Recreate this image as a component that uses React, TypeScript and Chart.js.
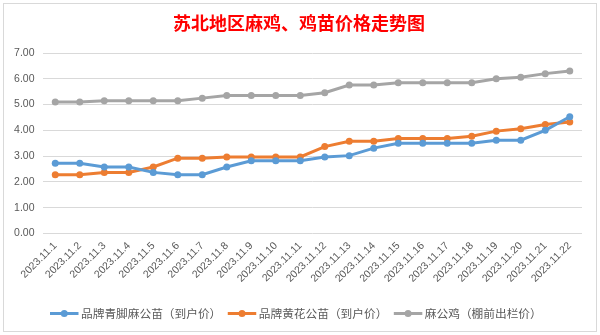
import React, { useEffect, useRef } from "react";
import { Chart, registerables } from "chart.js";

Chart.register(...registerables);

const titleText = "苏北地区麻鸡、鸡苗价格走势图";
const categories = [
  "2023.11.1", "2023.11.2", "2023.11.3", "2023.11.4", "2023.11.5", "2023.11.6",
  "2023.11.7", "2023.11.8", "2023.11.9", "2023.11.10", "2023.11.11", "2023.11.12",
  "2023.11.13", "2023.11.14", "2023.11.15", "2023.11.16", "2023.11.17", "2023.11.18",
  "2023.11.19", "2023.11.20", "2023.11.21", "2023.11.22",
];
const seriesNames = ["品牌青脚麻公苗（到户价）", "品牌黄花公苗（到户价）", "麻公鸡（棚前出栏价）"];
const blueValues = [2.72, 2.72, 2.58, 2.58, 2.37, 2.28, 2.28, 2.58, 2.82, 2.82, 2.82, 2.97, 3.02, 3.31, 3.5, 3.5, 3.5, 3.5, 3.62, 3.62, 4.0, 4.53];
const orangeValues = [2.28, 2.28, 2.37, 2.37, 2.58, 2.92, 2.92, 2.97, 2.97, 2.97, 2.97, 3.37, 3.58, 3.58, 3.68, 3.68, 3.68, 3.77, 3.97, 4.06, 4.23, 4.32];
const grayValues = [5.1, 5.1, 5.15, 5.15, 5.15, 5.15, 5.25, 5.35, 5.35, 5.35, 5.35, 5.46, 5.76, 5.76, 5.85, 5.85, 5.85, 5.85, 6.0, 6.06, 6.2, 6.3];
const yMin = 0;
const yMax = 7;
const yStep = 1;

const colors = ["#5B9BD5", "#ED7D31", "#A5A5A5"];

const framePlugin = {
  id: "frame",
  beforeDraw(chart: any) {
    const ctx = chart.ctx;
    ctx.save();
    ctx.fillStyle = "#ffffff";
    ctx.fillRect(0, 0, chart.width, chart.height);
    ctx.strokeStyle = "#D9D9D9";
    ctx.lineWidth = 1;
    ctx.strokeRect(3.5, 3.5, 593, 328);
    ctx.restore();
  },
  afterDraw(chart: any) {
    const ctx = chart.ctx;
    ctx.save();
    // title
    ctx.fillStyle = "#FF0000";
    ctx.font = 'bold 18px "Noto Sans CJK SC"';
    ctx.textAlign = "center";
    ctx.textBaseline = "middle";
    ctx.fillText(titleText, 299, 23);
    // legend
    ctx.font = '11.7px "Noto Sans CJK SC"';
    ctx.textAlign = "left";
    let x = 50;
    const y = 313.5;
    chart.data.datasets.forEach((ds: any) => {
      ctx.strokeStyle = ds.borderColor;
      ctx.lineWidth = 3;
      ctx.beginPath();
      ctx.moveTo(x, y);
      ctx.lineTo(x + 28.5, y);
      ctx.stroke();
      ctx.fillStyle = ds.borderColor;
      ctx.beginPath();
      ctx.arc(x + 14.25, y, 3.5, 0, Math.PI * 2);
      ctx.fill();
      ctx.fillStyle = "#595959";
      ctx.fillText(ds.label, x + 31, y);
      x += 31 + ctx.measureText(ds.label).width + 6.5;
    });
    ctx.restore();
  },
};

export default function App() {
  const ref = useRef<HTMLCanvasElement>(null);
  useEffect(() => {
    const chart = new Chart(ref.current!, {
      type: "line",
      data: {
        labels: categories,
        datasets: [blueValues, orangeValues, grayValues].map((v, i) => ({
          label: seriesNames[i],
          data: v,
          borderColor: colors[i],
          backgroundColor: colors[i],
          borderWidth: 3,
          pointRadius: 3.5,
          pointBorderWidth: 0,
          pointHoverRadius: 3.5,
          tension: 0,
        })),
      },
      options: {
        animation: false,
        responsive: false,
        layout: { padding: { top: 53, right: 18, left: 0, bottom: 0 } },
        plugins: { legend: { display: false }, title: { display: false }, tooltip: { enabled: false } },
        scales: {
          x: {
            offset: true,
            grid: { display: false, drawTicks: false },
            border: { display: false },
            ticks: {
              color: "#595959",
              font: { family: "Liberation Sans", size: 10.5 },
              minRotation: 45,
              maxRotation: 45,
              autoSkip: false,
              padding: 6,
            },
            afterFit: (s: any) => { s.height = 101.5; },
          },
          y: {
            min: yMin,
            max: yMax,
            grid: { color: "#D9D9D9", drawTicks: false, lineWidth: 1 },
            border: { display: false },
            ticks: {
              stepSize: yStep,
              color: "#595959",
              font: { family: "Liberation Sans", size: 10.5 },
              padding: 8.5,
              callback: (v: any) => Number(v).toFixed(2),
            },
            afterFit: (s: any) => { s.width = 43; },
          },
        },
      },
      plugins: [framePlugin],
    });
    return () => chart.destroy();
  }, []);
  return (
    <div style={{ position: "fixed", left: 0, top: 0, width: 600, height: 335, background: "#fff" }}>
      <canvas ref={ref} width={600} height={335} style={{ width: 600, height: 335, display: "block" }} />
    </div>
  );
}
